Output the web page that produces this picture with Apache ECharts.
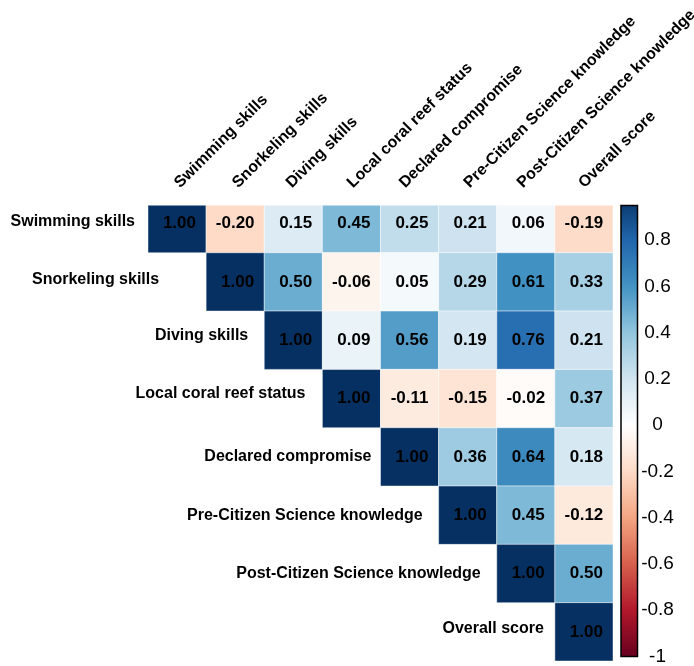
<!DOCTYPE html>
<html>
<head>
<meta charset="utf-8">
<script src="https://cdn.jsdelivr.net/npm/echarts@6/dist/echarts.min.js"></script>
<style>
  html, body { margin: 0; padding: 0; background: #fff; }
  #chart { width: 694px; height: 666px; }
</style>
</head>
<body>
<div id="chart"></div>
<script>
// Variable names, in matrix order
const variables = [
  'Swimming skills',
  'Snorkeling skills',
  'Diving skills',
  'Local coral reef status',
  'Declared compromise',
  'Pre-Citizen Science knowledge',
  'Post-Citizen Science knowledge',
  'Overall score'
];

// Upper triangle of the correlation matrix, one row per variable,
// each row starting at its diagonal entry
const rowSwimming   = [1.00, -0.20, 0.15, 0.45, 0.25, 0.21, 0.06, -0.19];
const rowSnorkeling = [1.00, 0.50, -0.06, 0.05, 0.29, 0.61, 0.33];
const rowDiving     = [1.00, 0.09, 0.56, 0.19, 0.76, 0.21];
const rowLocalReef  = [1.00, -0.11, -0.15, -0.02, 0.37];
const rowDeclared   = [1.00, 0.36, 0.64, 0.18];
const rowPreCS      = [1.00, 0.45, -0.12];
const rowPostCS     = [1.00, 0.50];
const rowOverall    = [1.00];

// Colour bar tick values
const colorbarTicks = [-1, -0.8, -0.6, -0.4, -0.2, 0, 0.2, 0.4, 0.6, 0.8];

// Diverging red-blue palette, from -1 to +1
const palette = ['#67001F', '#B2182B', '#D6604D', '#F4A582', '#FDDBC7', '#FFFFFF',
                 '#D1E5F0', '#92C5DE', '#4393C3', '#2166AC', '#053061'];

// Per-row nudges for the row names (gap to the diagonal cell, vertical shift)
const rowLabelGap = [13, 47, 16, 17, 9, 16, 16, 11];
const rowLabelDy  = [-1.5, -2.5, -5, -5, 0, 0, 0, -3];
// Horizontal nudges for the slanted column names
const colLabelDx  = [0, 0, -4.5, -1.5, -7.5, -1, -6, -2.5];

const FONT = '"Liberation Sans", Arial, Helvetica, sans-serif';

// Build [col, row, value] cells from the row arrays
const rows = [rowSwimming, rowSnorkeling, rowDiving, rowLocalReef,
              rowDeclared, rowPreCS, rowPostCS, rowOverall];
const cells = [];
rows.forEach((vals, r) => {
  vals.forEach((v, k) => cells.push([r + k, r, v]));
});

function fmt(v) {
  const s = v.toFixed(2);
  return v >= 0 ? ' ' + s : s;
}

function renderCell(params, api) {
  const c = api.value(0), r = api.value(1), v = api.value(2);
  const a = api.coord([c, r]);
  const b = api.coord([c + 1, r + 1]);
  const x = Math.min(a[0], b[0]), y = Math.min(a[1], b[1]);
  const w = Math.abs(b[0] - a[0]), h = Math.abs(b[1] - a[1]);
  return {
    type: 'group',
    children: [
      {
        type: 'rect',
        shape: { x: x, y: y, width: w, height: h },
        style: { fill: api.visual('color'), stroke: 'rgba(255,255,255,0.45)', lineWidth: 1 }
      },
      {
        type: 'text',
        x: x + w / 2,
        y: y + h / 2,
        style: {
          text: fmt(v),
          fill: '#000',
          font: 'bold 17px ' + FONT,
          align: 'center',
          verticalAlign: 'middle'
        }
      }
    ]
  };
}

function renderRowLabel(params, api) {
  const i = api.value(0);
  const p = api.coord([i, i + 0.5]);
  return {
    type: 'text',
    x: p[0] - rowLabelGap[i],
    y: p[1] + rowLabelDy[i],
    style: {
      text: variables[i],
      fill: '#000',
      font: 'bold 16px ' + FONT,
      align: 'right',
      verticalAlign: 'middle'
    }
  };
}

function renderColLabel(params, api) {
  const i = api.value(0);
  const p = api.coord([i + 0.5, 0]);
  return {
    type: 'text',
    x: p[0] + colLabelDx[i],
    y: p[1] - 9,
    rotation: Math.PI / 4,
    style: {
      text: variables[i],
      fill: '#000',
      font: 'bold 16px ' + FONT,
      align: 'left',
      verticalAlign: 'middle'
    }
  };
}

function renderColorbar(params, api) {
  const cs = params.coordSys;
  const top = api.coord([0, 1]);
  const bottom = api.coord([0, -1]);
  const y0 = Math.max(top[1], cs.y);
  const stops = palette.slice().reverse().map((col, k) => ({ offset: k / (palette.length - 1), color: col }));
  return {
    type: 'rect',
    shape: { x: cs.x, y: y0, width: cs.width, height: bottom[1] - y0 },
    style: {
      fill: new echarts.graphic.LinearGradient(0, top[1], 0, bottom[1], stops, true),
      stroke: '#000',
      lineWidth: 1.5
    }
  };
}

const chart = echarts.init(document.getElementById('chart'), null, { renderer: 'canvas' });

chart.setOption({
  backgroundColor: '#fff',
  animation: false,
  grid: [
    { left: 148, right: 81, top: 205.5, bottom: 5 },
    { left: 621, right: 56.5, top: 205.5, bottom: 5 }
  ],
  xAxis: [
    { type: 'value', gridIndex: 0, min: 0, max: 8, show: false },
    { type: 'value', gridIndex: 1, min: 0, max: 1, show: false }
  ],
  yAxis: [
    { type: 'value', gridIndex: 0, min: 0.19, max: 8, inverse: true, show: false },
    {
      type: 'value', gridIndex: 1, position: 'right', min: -1, max: 0.95,
      axisLine: { show: false },
      splitLine: { show: false },
      axisTick: {
        show: true, inside: false, length: 4,
        lineStyle: { color: '#000', width: 1 },
        customValues: colorbarTicks
      },
      axisLabel: {
        customValues: colorbarTicks,
        margin: 20,
        align: 'center',
        color: '#000',
        fontSize: 19,
        fontFamily: FONT,
        formatter: v => String(Math.round(v * 10) / 10)
      }
    }
  ],
  visualMap: {
    type: 'continuous',
    show: false,
    min: -1,
    max: 1,
    dimension: 2,
    seriesIndex: 0,
    inRange: { color: palette }
  },
  series: [
    {
      type: 'custom',
      name: 'correlation',
      xAxisIndex: 0,
      yAxisIndex: 0,
      clip: true,
      dimensions: ['col', 'row', 'r'],
      encode: { x: 0, y: 1 },
      data: cells,
      renderItem: renderCell,
      silent: true
    },
    {
      type: 'custom',
      xAxisIndex: 0,
      yAxisIndex: 0,
      clip: false,
      data: variables.map((_, i) => [i, i]),
      encode: { x: 0, y: 1 },
      renderItem: renderRowLabel,
      silent: true
    },
    {
      type: 'custom',
      xAxisIndex: 0,
      yAxisIndex: 0,
      clip: false,
      data: variables.map((_, i) => [i, 0]),
      encode: { x: 0, y: 1 },
      renderItem: renderColLabel,
      silent: true
    },
    {
      type: 'custom',
      xAxisIndex: 1,
      yAxisIndex: 1,
      clip: false,
      data: [[0, -1]],
      encode: { x: 0, y: 1 },
      renderItem: renderColorbar,
      silent: true
    }
  ]
});
</script>
</body>
</html>
